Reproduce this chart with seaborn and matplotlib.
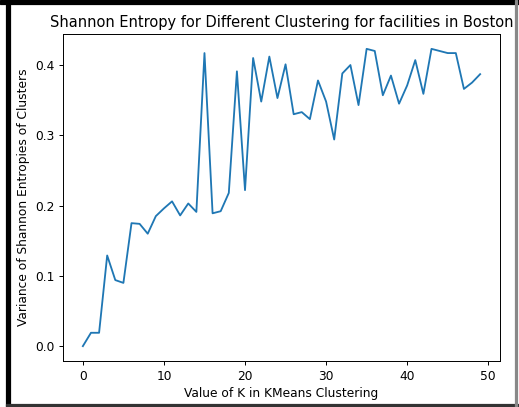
import numpy as np
import pandas as pd
import seaborn as sns
from matplotlib import pyplot as plt
from matplotlib.patches import Rectangle

# values
k_values = list(range(50))
entropy_variance = [
    0.000, 0.019, 0.019, 0.129, 0.094, 0.090, 0.175, 0.174, 0.160, 0.185,
    0.196, 0.206, 0.186, 0.203, 0.191, 0.417, 0.189, 0.192, 0.218, 0.391,
    0.222, 0.410, 0.348, 0.412, 0.353, 0.401, 0.330, 0.333, 0.323, 0.378,
    0.348, 0.294, 0.388, 0.400, 0.343, 0.423, 0.420, 0.357, 0.385, 0.345,
    0.371, 0.407, 0.359, 0.423, 0.420, 0.417, 0.417, 0.366, 0.375, 0.387,
]

df = pd.DataFrame({'k': k_values, 'variance': entropy_variance})

dpi = 88
fig = plt.figure(figsize=(519 / dpi, 407 / dpi), dpi=dpi)
ax = fig.add_axes([63 / 519, 46 / 407, 437 / 519, 327 / 407])

sns.lineplot(data=df, x='k', y='variance', ax=ax, color='#1f77b4', linewidth=1.5)
ax.set_title('Shannon Entropy for Different Clustering for facilities in Boston', fontsize=12)
ax.set_xlabel('Value of K in KMeans Clustering', fontsize=10)
ax.set_ylabel('Variance of Shannon Entropies of Clusters', fontsize=10)
ax.set_xticks([0, 10, 20, 30, 40, 50])
ax.set_yticks([0.0, 0.1, 0.2, 0.3, 0.4])

# screenshot frame around the figure
W, H = 519, 407
fig.patches.append(Rectangle((6 / W, 0), 4 / W, 1, transform=fig.transFigure, color='black', zorder=10))
fig.patches.append(Rectangle((0, 1 - 4 / H), 1, 4 / H, transform=fig.transFigure, color='black', zorder=10))
fig.patches.append(Rectangle((6 / W, 1 / H), 1 - 6 / W, 2 / H, transform=fig.transFigure, color='#333333', zorder=10))
fig.patches.append(Rectangle((515 / W, 0), 2 / W, 1, transform=fig.transFigure, color='#888888', zorder=10))

fig.savefig('out.png', dpi=dpi)
